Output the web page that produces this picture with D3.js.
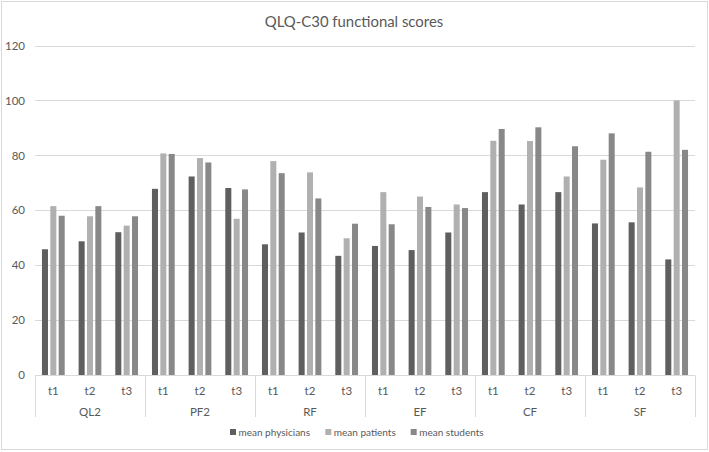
<!DOCTYPE html>
<html>
<head>
<meta charset="utf-8">
<script src="https://cdn.jsdelivr.net/npm/d3@7"></script>
<style>
  html, body { margin: 0; padding: 0; background: #fff; }
  svg { display: block; }
  text { font-family: Lato, "Open Sans", sans-serif; fill: #595959; }
</style>
</head>
<body>
<svg id="chart" width="709" height="452"></svg>
<script>
const title = "QLQ-C30 functional scores";
const groups = ["QL2", "PF2", "RF", "EF", "CF", "SF"];
const times = ["t1", "t2", "t3"];
const seriesNames = ["mean physicians", "mean patients", "mean students"];
const seriesColors = ["#5f5f5f", "#b0b0b0", "#888888"];
// values per series, ordered QL2 t1..t3, PF2 t1..t3, RF, EF, CF, SF
const physicians = [45.8, 48.7, 52.0, 67.8, 72.3, 68.1, 47.6, 51.9, 43.4, 47.0, 45.5, 51.9, 66.6, 62.1, 66.6, 55.2, 55.6, 42.1];
const patients   = [61.5, 57.8, 54.4, 80.7, 79.0, 56.9, 77.9, 73.8, 49.8, 66.6, 65.0, 62.1, 85.3, 85.2, 72.3, 78.4, 68.3, 100.0];
const students   = [58.0, 61.5, 57.8, 80.5, 77.4, 67.6, 73.5, 64.3, 55.1, 54.9, 61.2, 60.8, 89.6, 90.2, 83.3, 88.0, 81.3, 82.0];
const yTicks = [0, 20, 40, 60, 80, 100, 120];

const seriesValues = [physicians, patients, students];
const categories = [];
groups.forEach(g => times.forEach(t => categories.push({ key: g + "|" + t, group: g, time: t })));

const svg = d3.select("#chart");
const W = 709, H = 452;
const plot = { left: 35, right: 695, top: 45.5, bottom: 375 };

// outer border
svg.append("rect").attr("x", 1.5).attr("y", 1.5).attr("width", W - 3).attr("height", H - 4)
  .attr("fill", "#fff").attr("stroke", "#d9d9d9").attr("stroke-width", 1);

const x = d3.scaleBand().domain(categories.map(c => c.key)).range([plot.left, plot.right]).paddingInner(0).paddingOuter(0);
const xSub = d3.scaleBand().domain(d3.range(seriesNames.length))
  .range([x.bandwidth() * 0.19, x.bandwidth() * 0.81]).paddingInner(0.28).paddingOuter(0);
const y = d3.scaleLinear().domain([0, 120]).range([plot.bottom, plot.top]);

// gridlines
svg.append("g").selectAll("line").data(yTicks.filter(t => t > 0)).join("line")
  .attr("x1", plot.left).attr("x2", plot.right)
  .attr("y1", d => Math.round(y(d)) + 0.5).attr("y2", d => Math.round(y(d)) + 0.5)
  .attr("stroke", "#d9d9d9").attr("stroke-width", 1);

// y axis labels
const yAxis = d3.axisLeft(y).tickValues(yTicks).tickSize(0).tickPadding(10);
const yg = svg.append("g").attr("transform", `translate(${plot.left},0)`).call(yAxis);
yg.select(".domain").remove();
yg.selectAll("text").style("font-family", "Lato, sans-serif").style("font-size", "11.5px").attr("fill", "#595959");

// bars
const barG = svg.append("g");
seriesValues.forEach((vals, si) => {
  barG.append("g").selectAll("rect").data(categories).join("rect")
    .attr("x", (c) => x(c.key) + xSub(si))
    .attr("width", xSub.bandwidth())
    .attr("y", (c, i) => y(vals[i]))
    .attr("height", (c, i) => y(0) - y(vals[i]))
    .attr("fill", seriesColors[si]);
});

// category axis (multi-level)
const axisG = svg.append("g");
const base = Math.round(y(0)) + 0.5;
axisG.append("line").attr("x1", plot.left).attr("x2", plot.right).attr("y1", base).attr("y2", base)
  .attr("stroke", "#d9d9d9");
const groupX = d3.scaleBand().domain(groups).range([plot.left, plot.right]);
const boundaries = groups.map(g => groupX(g)).concat([plot.right]);
axisG.selectAll("line.sep").data(boundaries).join("line").attr("class", "sep")
  .attr("x1", d => Math.round(d) + 0.5).attr("x2", d => Math.round(d) + 0.5)
  .attr("y1", base).attr("y2", 417)
  .attr("stroke", "#d9d9d9");

axisG.selectAll("text.time").data(categories).join("text").attr("class", "time")
  .attr("x", c => x(c.key) + x.bandwidth() / 2).attr("y", 390)
  .attr("text-anchor", "middle").attr("dominant-baseline", "central")
  .style("font-size", "11.5px").text(c => c.time);

axisG.selectAll("text.group").data(groups).join("text").attr("class", "group")
  .attr("x", g => groupX(g) + groupX.bandwidth() / 2).attr("y", 411)
  .attr("text-anchor", "middle").attr("dominant-baseline", "central")
  .style("font-size", "11.5px").text(g => g);

// title
svg.append("text").attr("x", 354).attr("y", 21).attr("text-anchor", "middle")
  .attr("dominant-baseline", "central").style("font-size", "14.9px").text(title);

// legend
const legendX = [230, 325.3, 410.7];
const lg = svg.append("g");
seriesNames.forEach((n, i) => {
  lg.append("rect").attr("x", legendX[i]).attr("y", 429).attr("width", 6).attr("height", 6).attr("fill", seriesColors[i]);
  lg.append("text").attr("x", legendX[i] + 8.5).attr("y", 432).attr("dominant-baseline", "central")
    .style("font-size", "10px").text(n);
});
</script>
</body>
</html>
